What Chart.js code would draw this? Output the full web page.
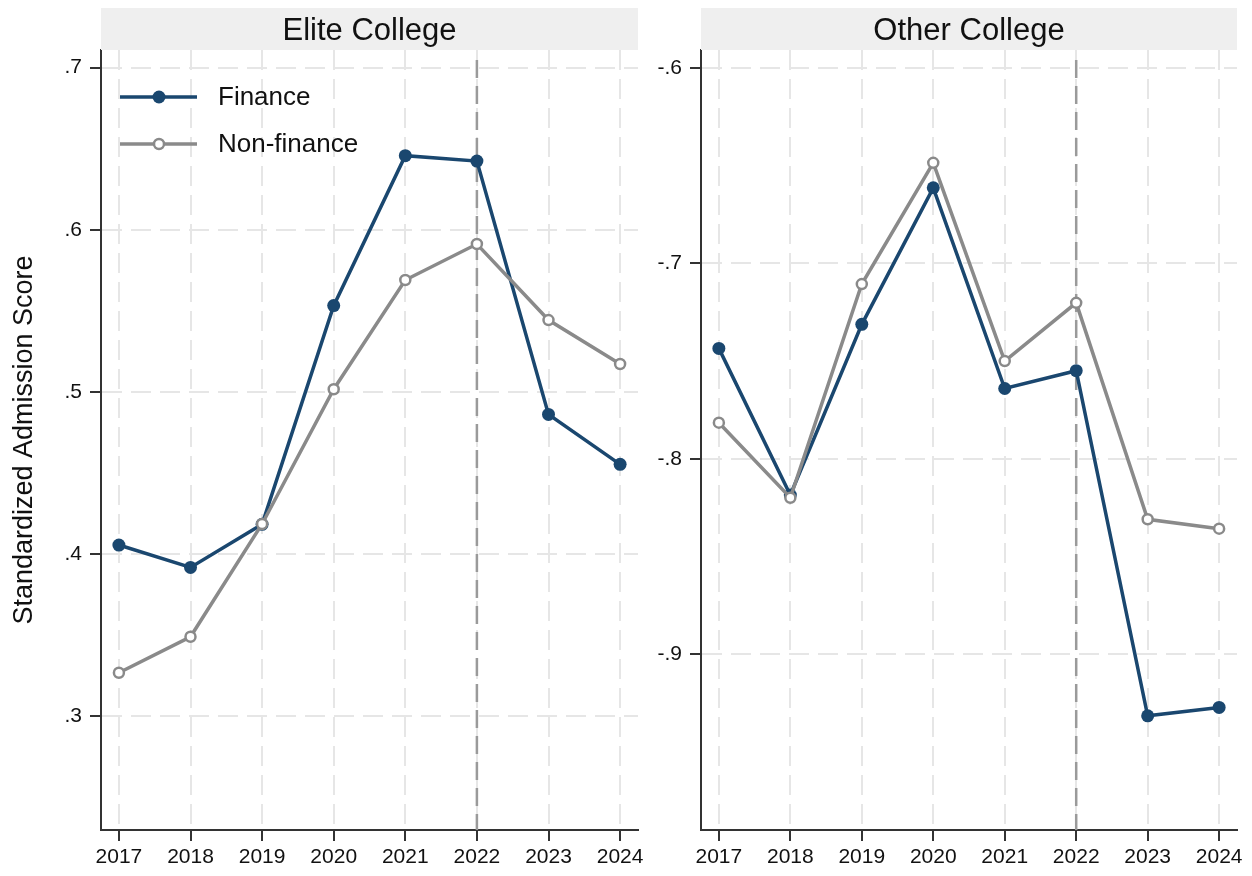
<!DOCTYPE html>
<html>
<head>
<meta charset="utf-8">
<script src="https://cdn.jsdelivr.net/npm/chart.js@4.4.1/dist/chart.umd.min.js"></script>
<style>
  html, body { margin: 0; padding: 0; background: #fff; }
  #wrap { position: relative; width: 1252px; height: 876px; }
  .panel { position: absolute; top: 0; height: 876px; }
  #left { left: 0; width: 660px; }
  #right { left: 640px; width: 612px; }
</style>
</head>
<body>
<div id="wrap">
  <div class="panel" id="left"><canvas id="eliteChart"></canvas></div>
  <div class="panel" id="right"><canvas id="otherChart"></canvas></div>
</div>
<script>
// years on the x axis
const years = [2017, 2018, 2019, 2020, 2021, 2022, 2023, 2024];

// elite colleges
const eliteFinance    = [0.4055, 0.3917, 0.4183, 0.5532, 0.6457, 0.6424, 0.4861, 0.4553];
const eliteNonFinance = [0.3267, 0.3489, 0.4185, 0.5016, 0.5690, 0.5912, 0.5443, 0.5172];
const eliteTicks = [0.3, 0.4, 0.5, 0.6, 0.7];

// other colleges
const otherFinance    = [-0.7435, -0.8185, -0.7312, -0.6614, -0.7640, -0.7549, -0.9314, -0.9271];
const otherNonFinance = [-0.7815, -0.8199, -0.7106, -0.6486, -0.7500, -0.7202, -0.8309, -0.8357];
const otherTicks = [-0.9, -0.8, -0.7, -0.6];

const policyYear = 2022;

const NAVY = '#1a476f';
const GRAY = '#8a8a8a';
const FONT = '"Liberation Sans", Arial, sans-serif';

// stata-ish ".7" / "-.6" labels
const fmt = v => {
    const s = Number(v).toFixed(1);
    return s.replace(/^(-?)0\./, '$1.');
};

// gray strip with the panel name
const headerPlugin = {
    id: 'header',
    afterDraw(chart, args, opts) {
        const { ctx, chartArea } = chart;
        ctx.save();
        ctx.fillStyle = '#efefef';
        ctx.fillRect(chartArea.left, 8, chartArea.right - chartArea.left, 42);
        ctx.fillStyle = '#111';
        ctx.font = '31px ' + FONT;
        ctx.textAlign = 'center';
        ctx.textBaseline = 'middle';
        ctx.fillText(opts.text, (chartArea.left + chartArea.right) / 2, 31);
        ctx.restore();
    }
};

// dashed vertical line at the policy year
const refLinePlugin = {
    id: 'refLine',
    beforeDatasetsDraw(chart) {
        const { ctx, chartArea, scales } = chart;
        const x = scales.x.getPixelForValue(policyYear);
        ctx.save();
        ctx.strokeStyle = '#9a9a9a';
        ctx.lineWidth = 2.5;
        ctx.setLineDash([18, 8]);
        ctx.beginPath();
        ctx.moveTo(x, chartArea.top + 10);
        ctx.lineTo(x, chartArea.bottom);
        ctx.stroke();
        ctx.restore();
    }
};

// line + marker legend in the upper left of the first panel
const legendPlugin = {
    id: 'lineLegend',
    afterDraw(chart, args, opts) {
        if (!opts.show) return;
        const { ctx } = chart;
        const rows = chart.data.datasets.slice().sort((a, b) => a.legendRank - b.legendRank);
        ctx.save();
        rows.forEach((ds, i) => {
            const y = 97 + i * 47;
            ctx.strokeStyle = ds.borderColor;
            ctx.lineWidth = ds.borderWidth;
            ctx.beginPath();
            ctx.moveTo(120, y);
            ctx.lineTo(197, y);
            ctx.stroke();
            ctx.beginPath();
            ctx.arc(159, y, ds.pointRadius, 0, Math.PI * 2);
            ctx.fillStyle = ds.pointBackgroundColor;
            ctx.fill();
            if (ds.pointBorderWidth) {
                ctx.lineWidth = ds.pointBorderWidth;
                ctx.strokeStyle = ds.pointBorderColor;
                ctx.stroke();
            }
            ctx.fillStyle = '#111';
            ctx.font = '26px ' + FONT;
            ctx.textBaseline = 'middle';
            ctx.fillText(ds.label, 218, y + 1);
        });
        ctx.restore();
    }
};

function makeDatasets(fin, nonFin) {
    return [
        {
            label: 'Finance', legendRank: 0, order: 1,
            data: years.map((y, i) => ({ x: y, y: fin[i] })),
            borderColor: NAVY, borderWidth: 3.5,
            pointRadius: 6.5, pointBackgroundColor: NAVY, pointBorderWidth: 0,
            pointBorderColor: NAVY
        },
        {
            label: 'Non-finance', legendRank: 1, order: 0,
            data: years.map((y, i) => ({ x: y, y: nonFin[i] })),
            borderColor: GRAY, borderWidth: 3.5,
            pointRadius: 5, pointBackgroundColor: '#fff',
            pointBorderColor: GRAY, pointBorderWidth: 2.5
        }
    ];
}

function makeChart(id, cfg) {
    return new Chart(document.getElementById(id), {
        type: 'line',
        data: { datasets: makeDatasets(cfg.fin, cfg.nonFin) },
        plugins: [refLinePlugin, headerPlugin, legendPlugin],
        options: {
            responsive: true,
            maintainAspectRatio: false,
            animation: false,
            layout: { padding: { top: 50, right: cfg.padRight, left: 0, bottom: 0 } },
            plugins: {
                legend: { display: false },
                tooltip: { enabled: false },
                header: { text: cfg.title },
                lineLegend: { show: cfg.legend }
            },
            scales: {
                x: {
                    type: 'linear',
                    min: 2016.75, max: 2024.25,
                    afterBuildTicks: s => { s.ticks = years.map(v => ({ value: v })); },
                    afterFit: s => {
                        s.height = 46;
                        s.paddingLeft = 0;
                        s.paddingRight = 0;
                    },
                    ticks: {
                        callback: v => String(v),
                        color: '#111',
                        font: { family: FONT, size: 21 },
                        padding: 4,
                        maxRotation: 0
                    },
                    grid: {
                        color: '#e6e6e6', lineWidth: 2,
                        tickColor: '#333', tickLength: 11, tickWidth: 2
                    },
                    border: { color: '#333', width: 2, dash: [20, 9] }
                },
                y: {
                    min: cfg.yMin, max: cfg.yMax,
                    afterBuildTicks: s => { s.ticks = cfg.ticks.map(v => ({ value: v })); },
                    afterFit: s => { s.width = cfg.axisWidth; },
                    title: {
                        display: cfg.legend,
                        text: 'Standardized Admission Score',
                        color: '#111',
                        font: { family: FONT, size: 27 },
                        padding: { top: 8, bottom: 0 }
                    },
                    ticks: {
                        callback: v => fmt(v),
                        color: '#111',
                        font: { family: FONT, size: 21 },
                        padding: 8
                    },
                    grid: {
                        color: '#e6e6e6', lineWidth: 2,
                        tickColor: '#333', tickLength: 11, tickWidth: 2
                    },
                    border: { color: '#333', width: 2, dash: [20, 9] }
                }
            }
        }
    });
}

makeChart('eliteChart', {
    fin: eliteFinance, nonFin: eliteNonFinance, ticks: eliteTicks,
    yMin: 0.2297, yMax: 0.7109,
    title: 'Elite College', legend: true,
    axisWidth: 101, padRight: 22
});

makeChart('otherChart', {
    fin: otherFinance, nonFin: otherNonFinance, ticks: otherTicks,
    yMin: -0.9898, yMax: -0.5909,
    title: 'Other College', legend: false,
    axisWidth: 61, padRight: 15
});
</script>
</body>
</html>
